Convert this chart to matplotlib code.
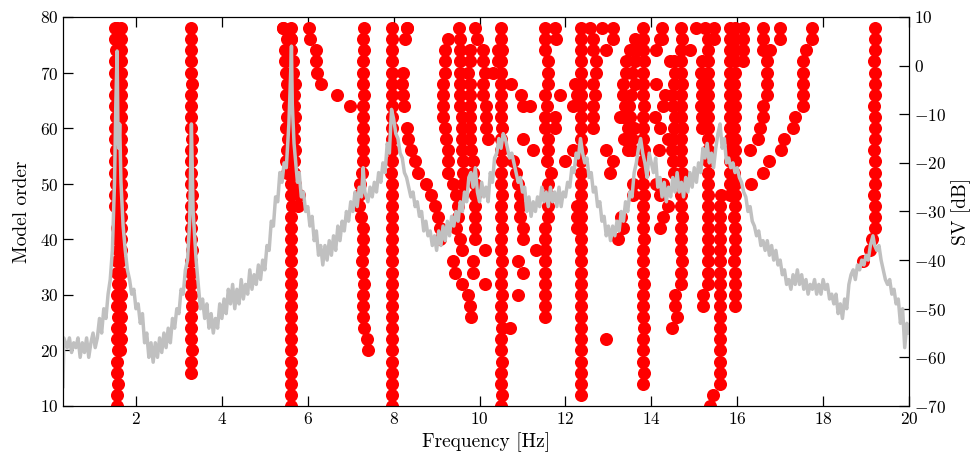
import numpy as np
import matplotlib
matplotlib.use('Agg')
import matplotlib.pyplot as plt

plt.rcParams['font.family'] = 'serif'
plt.rcParams['font.serif'] = ['cmr10']
plt.rcParams['mathtext.fontset'] = 'cm'
plt.rcParams['axes.unicode_minus'] = False
plt.rcParams['axes.formatter.use_mathtext'] = True

#
#  Singular value spectrum (right axis), (frequency, dB) pairs
#
sv_pts = [
    (0.30, -66), (0.32, -56), (0.40, -58), (0.45, -56), (0.50, -59), (0.55, -57),
    (0.60, -58), (0.65, -56), (0.70, -60), (0.75, -57), (0.80, -59), (0.85, -56),
    (0.90, -60), (0.95, -57), (1.00, -55), (1.05, -58), (1.10, -56), (1.15, -52),
    (1.20, -55), (1.25, -50), (1.30, -52), (1.35, -47), (1.40, -44), (1.45, -38),
    (1.50, -24), (1.53, -8), (1.56, 3), (1.58, -14), (1.60, -17), (1.62, -12),
    (1.65, -24), (1.70, -33), (1.75, -38), (1.80, -42), (1.85, -44), (1.90, -47),
    (1.95, -46), (2.00, -50), (2.05, -49), (2.10, -53), (2.15, -51), (2.20, -57),
    (2.25, -55), (2.30, -60), (2.35, -57), (2.40, -61), (2.45, -57), (2.50, -60),
    (2.55, -56), (2.60, -59), (2.65, -55), (2.70, -58), (2.75, -54), (2.80, -57),
    (2.85, -52), (2.90, -54), (2.95, -50), (3.00, -51), (3.05, -46), (3.10, -47),
    (3.15, -42), (3.20, -40), (3.25, -32), (3.29, -12), (3.33, -30), (3.40, -40),
    (3.45, -45), (3.50, -50), (3.55, -48), (3.60, -52), (3.65, -49), (3.70, -54),
    (3.75, -51), (3.80, -55), (3.85, -52), (3.90, -54), (3.95, -49), (4.00, -52),
    (4.05, -48), (4.10, -51), (4.15, -46), (4.20, -49), (4.25, -45), (4.30, -50),
    (4.35, -46), (4.40, -49), (4.45, -44), (4.50, -48), (4.55, -45), (4.60, -47),
    (4.65, -42), (4.70, -46), (4.75, -43), (4.80, -45), (4.85, -41), (4.90, -44),
    (4.95, -40), (5.00, -42), (5.05, -37), (5.10, -38), (5.15, -32), (5.20, -33),
    (5.25, -27), (5.30, -28), (5.35, -22), (5.40, -24), (5.45, -20), (5.50, -21),
    (5.56, -12), (5.60, -2), (5.62, 4), (5.64, -8), (5.68, -16), (5.72, -20),
    (5.76, -24), (5.80, -22), (5.85, -27), (5.90, -26), (5.95, -30), (6.00, -29),
    (6.05, -33), (6.10, -31), (6.15, -36), (6.20, -34), (6.25, -39), (6.30, -37),
    (6.35, -41), (6.40, -37), (6.45, -40), (6.50, -36), (6.55, -39), (6.60, -35),
    (6.65, -38), (6.70, -33), (6.75, -36), (6.80, -32), (6.85, -34), (6.90, -30),
    (6.95, -32), (7.00, -28), (7.05, -30), (7.10, -26), (7.15, -29), (7.20, -25),
    (7.25, -27), (7.29, -21), (7.33, -26), (7.40, -28), (7.45, -25), (7.50, -27),
    (7.55, -24), (7.60, -26), (7.65, -22), (7.70, -24), (7.75, -20), (7.80, -22),
    (7.85, -16), (7.90, -18), (7.95, -9), (8.00, -11), (8.05, -14), (8.10, -15),
    (8.15, -18), (8.20, -19), (8.25, -22), (8.30, -23), (8.35, -25), (8.40, -27),
    (8.45, -26), (8.50, -29), (8.55, -28), (8.60, -31), (8.65, -30), (8.70, -34),
    (8.75, -32), (8.80, -35), (8.85, -34), (8.90, -37), (8.95, -35), (9.00, -38),
    (9.05, -34), (9.10, -37), (9.15, -33), (9.20, -36), (9.25, -32), (9.30, -35),
    (9.35, -31), (9.40, -33), (9.45, -30), (9.50, -32), (9.55, -28), (9.60, -30),
    (9.65, -26), (9.70, -28), (9.75, -23), (9.80, -22), (9.85, -25), (9.90, -21),
    (9.95, -26), (10.00, -28), (10.05, -24), (10.10, -27), (10.15, -25), (10.20, -28),
    (10.25, -22), (10.30, -24), (10.35, -19), (10.40, -18), (10.45, -15), (10.50, -17),
    (10.55, -14), (10.60, -15), (10.65, -17), (10.70, -19), (10.75, -18), (10.80, -20),
    (10.85, -22), (10.90, -24), (10.95, -23), (11.00, -26), (11.05, -25), (11.10, -30),
    (11.15, -27), (11.20, -31), (11.25, -28), (11.30, -30), (11.35, -27), (11.40, -29),
    (11.45, -25), (11.50, -28), (11.55, -26), (11.60, -29), (11.65, -25), (11.70, -28),
    (11.75, -26), (11.80, -29), (11.85, -25), (11.90, -29), (11.95, -26), (12.00, -27),
    (12.05, -24), (12.10, -25), (12.15, -21), (12.20, -22), (12.25, -18), (12.30, -19),
    (12.35, -15), (12.40, -18), (12.45, -20), (12.50, -19), (12.55, -23), (12.60, -22),
    (12.65, -26), (12.70, -25), (12.75, -29), (12.80, -28), (12.85, -32), (12.90, -31),
    (12.95, -35), (13.00, -33), (13.05, -36), (13.10, -33), (13.15, -35), (13.20, -32),
    (13.25, -34), (13.30, -30), (13.35, -32), (13.40, -28), (13.45, -30), (13.50, -26),
    (13.55, -27), (13.60, -22), (13.65, -20), (13.70, -17), (13.75, -15), (13.80, -18),
    (13.85, -20), (13.90, -23), (13.95, -18), (14.00, -20), (14.05, -22), (14.10, -19),
    (14.15, -25), (14.20, -23), (14.25, -27), (14.30, -24), (14.35, -28), (14.40, -25),
    (14.45, -27), (14.50, -23), (14.55, -26), (14.60, -22), (14.65, -26), (14.70, -24),
    (14.75, -27), (14.80, -23), (14.85, -26), (14.90, -22), (14.95, -25), (15.00, -21),
    (15.05, -24), (15.10, -20), (15.15, -22), (15.20, -17), (15.25, -19), (15.30, -16),
    (15.35, -20), (15.40, -18), (15.45, -21), (15.50, -17), (15.55, -14), (15.60, -12),
    (15.65, -17), (15.70, -15), (15.75, -20), (15.80, -19), (15.85, -21), (15.90, -20),
    (15.95, -22), (16.00, -21), (16.05, -23), (16.10, -24), (16.15, -26), (16.20, -27),
    (16.25, -30), (16.30, -29), (16.35, -32), (16.40, -33), (16.45, -35), (16.50, -34),
    (16.55, -37), (16.60, -36), (16.65, -38), (16.70, -36), (16.75, -39), (16.80, -37),
    (16.85, -40), (16.90, -38), (16.95, -41), (17.00, -40), (17.05, -43), (17.10, -42),
    (17.15, -45), (17.20, -44), (17.25, -46), (17.30, -43), (17.35, -45), (17.40, -42),
    (17.45, -45), (17.50, -43), (17.55, -46), (17.60, -44), (17.65, -47), (17.70, -45),
    (17.75, -46), (17.80, -44), (17.85, -47), (17.90, -45), (17.95, -47), (18.00, -44),
    (18.05, -46), (18.10, -45), (18.15, -48), (18.20, -47), (18.25, -49), (18.30, -47),
    (18.35, -51), (18.40, -49), (18.45, -52), (18.50, -48), (18.55, -50), (18.60, -45),
    (18.65, -43), (18.70, -42), (18.75, -44), (18.80, -41), (18.85, -42), (18.90, -40),
    (18.95, -41), (19.00, -39), (19.05, -40), (19.10, -37), (19.16, -35), (19.20, -37),
    (19.25, -38), (19.30, -37), (19.35, -40), (19.40, -42), (19.45, -44), (19.50, -45),
    (19.55, -44), (19.60, -47), (19.65, -46), (19.70, -49), (19.75, -48), (19.80, -53),
    (19.85, -50), (19.90, -58), (19.95, -53), (20.00, -55),
]
sv_freq = [p[0] for p in sv_pts]
sv_db = [p[1] for p in sv_pts]

#
#  Stabilisation diagram: identified poles (model order, frequency)
#  Each track: first model order, then one frequency per order (step 2).
#
tracks = [
    # 1.6 Hz
    (10, [1.56, 1.56, 1.57, 1.56, 1.56, 1.57, 1.56, 1.56, 1.57, 1.56, 1.56, 1.57,
          1.56, 1.56, 1.57, 1.56, 1.56, 1.57, 1.56, 1.56, 1.57, 1.56, 1.56, 1.57,
          1.56, 1.56, 1.57, 1.56, 1.56, 1.57, 1.56, 1.56, 1.57, 1.56, 1.56]),
    (20, [1.63, 1.64, 1.63, 1.64, 1.63, 1.64, 1.63, 1.64, 1.63, 1.65, 1.64, 1.65,
          1.64, 1.65, 1.64, 1.65, 1.64, 1.65, 1.64, 1.65, 1.64, 1.65, 1.64, 1.65,
          1.64, 1.65, 1.64, 1.65, 1.64, 1.66]),
    (46, [1.52, 1.52, 1.53, 1.52, 1.52, 1.53, 1.52, 1.52, 1.53, 1.52, 1.52, 1.53,
          1.52, 1.52, 1.53, 1.52, 1.51]),
    # 3.3 Hz
    (16, [3.29, 3.29, 3.30, 3.29, 3.28, 3.29, 3.30, 3.29, 3.28, 3.29, 3.29, 3.30,
          3.29, 3.28, 3.29, 3.29, 3.30, 3.29, 3.28, 3.29, 3.29, 3.30, 3.29, 3.28,
          3.29, 3.29, 3.30, 3.29, 3.28, 3.29, 3.29, 3.29]),
    # 5.6 Hz
    (10, [5.62, 5.62, 5.62, 5.61, 5.62, 5.62, 5.62, 5.61, 5.62, 5.62, 5.62, 5.61,
          5.62, 5.62, 5.62, 5.61, 5.62, 5.62, 5.63, 5.62, 5.61, 5.62, 5.63, 5.62,
          5.61, 5.62, 5.63, 5.62, 5.61, 5.62, 5.63, 5.62, 5.60, 5.62, 5.62]),
    (52, [5.52, 5.50, 5.52, 5.53, 5.50, 5.52, 5.53, 5.50, 5.52, 5.49, 5.47, 5.47,
          5.52, 5.42]),
    (46, [5.78, 5.80, 5.70, 5.69, 5.68, 5.70, 5.69, 5.68, 5.70, 5.69, 5.68, 5.70,
          5.66, 5.66]),
    (64, [6.98, 6.68, 6.31, 6.22, 6.19, 6.18, 6.05, 6.04]),
    # 7.3 Hz
    (20, [7.40, 7.37, 7.30, 7.29, 7.28, 7.29, 7.30, 7.28, 7.27, 7.28, 7.29, 7.28,
          7.24, 7.20, 7.19, 7.22, 7.26, 7.28, 7.29, 7.28, 7.29, 7.28, 7.29, 7.30,
          7.29, 7.28, 7.29, 7.30, 7.29, 7.30]),
    # 7.95 Hz
    (10, [7.95, 7.95, 7.96, 7.95, 7.95, 7.96, 7.95, 7.95, 7.96, 7.95, 7.95, 7.96,
          7.95, 7.95, 7.96, 7.95, 7.95, 7.96, 7.95, 7.95, 7.96, 7.94, 7.95, 7.96,
          7.95, 7.95, 7.96, 7.95, 7.95, 7.96, 7.95, 7.95, 7.96, 7.95, 7.95]),
    (40, [9.07, 9.07, 9.03, 8.97, 8.88, 8.76, 8.57, 8.49, 8.41, 8.33, 8.30]),
    (64, [8.24, 8.22, 8.20, 8.22]),
    (76, [8.26, 8.30]),
    # 9 - 10.3 Hz
    (26, [9.81, 9.77, 9.73, 9.58, 9.42, 9.38, 9.58, 9.54, 9.46, 9.50, 9.50, 9.46,
          9.38, 9.27, 9.27, 9.27, 9.23, 9.19, 9.15, 9.15, 9.15, 9.15, 9.19, 9.19,
          9.19, 9.27]),
    (48, [9.58, 9.62, 9.62, 9.62, 9.58, 9.58, 9.58, 9.58, 9.54, 9.54, 9.54, 9.54,
          9.54, 9.54, 9.54, 9.52]),
    (34, [9.85, 9.85]),
    (40, [9.89, 9.89, 9.89, 9.89, 9.89, 9.89, 9.85, 9.85, 9.81, 9.77, 9.77, 9.77,
          9.77, 9.77, 9.77, 9.73, 9.77, 9.77, 9.93, 9.89]),
    (58, [10.20, 10.16, 10.16, 10.16, 10.08, 10.08, 10.12, 10.08, 10.08]),
    # 10.5 Hz
    (10, [10.51, 10.52, 10.51, 10.51, 10.52, 10.51, 10.51, 10.52, 10.51, 10.51,
          10.52, 10.51, 10.51, 10.52, 10.51, 10.51, 10.52, 10.51, 10.51, 10.52,
          10.51, 10.51, 10.52, 10.51, 10.51, 10.52, 10.51, 10.51, 10.50, 10.51,
          10.50, 10.51, 10.52, 10.51, 10.51]),
    (40, [11.01, 11.01, 10.94, 10.94, 10.94, 10.90, 10.86, 10.78]),
    # 11.55 Hz
    (26, [11.52, 11.52, 11.52, 11.52, 11.52, 11.52, 11.52, 11.52, 11.52, 11.60,
          11.60, 11.60, 11.60, 11.67, 11.56, 11.60, 11.60, 11.52, 11.52, 11.56,
          11.52, 11.60, 11.60, 11.60, 11.52, 11.52, 11.52]),
    # 12.35 Hz
    (12, [12.37, 12.37, 12.36, 12.37, 12.37, 12.36, 12.37, 12.37, 12.36, 12.37,
          12.37, 12.36, 12.37, 12.37, 12.36, 12.37, 12.37, 12.36, 12.37, 12.37,
          12.36, 12.37, 12.37, 12.36, 12.37, 12.37, 12.36, 12.37, 12.37, 12.36,
          12.37, 12.37, 12.36, 12.37]),
    (60, [12.64, 12.64, 12.64, 12.68, 12.64, 12.72, 12.72, 12.64, 12.64]),
    # 13.3 - 13.7 Hz cluster
    (56, [13.46, 13.42, 13.46, 13.34, 13.38, 13.34, 13.34, 13.42, 13.42, 13.50,
          13.61]),
    (56, [13.55, 13.55, 13.60, 13.50, 13.48, 13.52, 13.61, 13.54, 13.62, 13.69]),
    # 13.8 Hz
    (14, [13.81, 13.82, 13.81, 13.80, 13.81, 13.82, 13.81, 13.80, 13.81, 13.82,
          13.81, 13.80, 13.81, 13.82, 13.81, 13.80, 13.81, 13.82, 13.81, 13.80,
          13.81, 13.82, 13.81, 13.80, 13.81, 13.82, 13.81, 13.80, 13.81, 13.82,
          13.81, 13.80, 13.81]),
    # 14.5 - 14.7 Hz
    (52, [14.52, 14.50, 14.48, 14.50, 14.52, 14.54, 14.50, 14.48, 14.52, 14.55,
          14.52]),
    (24, [14.47, 14.60, 14.54, 14.54, 14.70, 14.70, 14.71, 14.70, 14.69, 14.70,
          14.71, 14.70, 14.69, 14.70, 14.71, 14.70, 14.69, 14.70, 14.71, 14.70,
          14.69, 14.70, 14.71, 14.70, 14.69, 14.70, 14.71, 14.70]),
    # 15.2 - 15.6 Hz
    (60, [15.17, 15.18, 15.16, 15.17, 15.18, 15.16, 15.17]),
    (28, [15.20, 15.20, 15.32, 15.33, 15.32, 15.31, 15.32, 15.33, 15.32, 15.31,
          15.32, 15.33, 15.32, 15.31, 15.32, 15.33, 15.32, 15.31, 15.32, 15.33,
          15.32, 15.31, 15.32, 15.33, 15.32]),
    (10, [15.36, 15.44, 15.60, 15.60, 15.61, 15.60, 15.59, 15.60, 15.61, 15.60,
          15.59, 15.60, 15.61, 15.60, 15.59, 15.60, 15.61, 15.60, 15.59, 15.62]),
    # 15.9 Hz
    (28, [15.94, 15.94, 15.95, 15.94, 15.93, 15.94, 15.95, 15.94, 15.93, 15.94,
          15.95, 15.94, 15.93, 15.94, 15.95, 15.94, 15.93, 15.94, 15.95, 15.94,
          15.93, 15.94, 15.95, 15.94, 15.94, 15.94]),
    (48, [15.83, 15.84, 15.83, 15.82, 15.83, 15.84, 15.83, 15.82, 15.83, 15.84,
          15.83, 15.82, 15.83, 15.84, 15.83, 15.83]),
    (72, [16.14, 16.14, 16.14, 16.14]),
    (74, [16.60, 16.60, 16.60]),
    # curved tracks 16.3 - 17.7 Hz
    (56, [16.29, 16.48, 16.53, 16.60, 16.60, 16.69, 16.69, 16.69, 16.69, 16.76,
          16.99, 16.99]),
    (50, [16.33, 16.60, 16.75, 17.03, 17.10, 17.30, 17.34, 17.53, 17.53, 17.53,
          17.53, 17.53, 17.61, 17.73, 17.73]),
    # 19.2 Hz
    (36, [18.93, 19.09, 19.13, 19.20, 19.21, 19.20, 19.19, 19.20, 19.21, 19.20,
          19.19, 19.20, 19.21, 19.20, 19.19, 19.20, 19.21, 19.20, 19.19, 19.20,
          19.20, 19.20]),
]

# isolated poles (order, frequency)
single_pts = [
    (78, 5.42), (76, 5.62), (78, 8.30),
    (38, 10.12), (32, 10.12), (74, 10.43), (72, 10.43), (70, 10.31),
    (68, 10.74), (66, 10.97), (64, 11.01), (64, 11.17), (58, 11.01), (56, 11.25),
    (38, 11.32), (36, 10.90), (34, 11.01), (30, 10.90), (24, 10.70),
    (78, 11.75), (76, 11.79), (62, 11.75), (60, 11.75), (66, 11.87), (54, 11.98),
    (68, 12.22), (66, 12.26), (64, 12.18), (56, 12.18), (46, 12.26), (44, 12.26),
    (42, 12.26),
    (78, 12.57), (78, 12.84), (78, 13.11), (76, 13.11), (74, 12.95), (56, 12.95),
    (54, 13.11), (52, 13.03), (40, 13.22), (22, 12.95),
    (50, 13.57), (48, 13.57), (62, 13.28), (58, 13.36), (44, 13.30), (42, 13.35),
    (78, 14.24), (76, 14.24), (76, 14.20), (74, 14.12), (72, 14.43), (68, 14.12),
    (66, 14.31), (64, 14.27), (62, 14.08), (60, 14.20), (58, 14.39), (56, 14.18),
    (50, 14.12), (50, 14.27), (48, 14.20), (46, 14.39), (44, 14.27), (42, 14.20),
    (74, 14.90), (78, 15.05), (78, 15.25), (78, 15.45), (76, 15.45),
]

orders = []
freqs = []
for first, fl in tracks:
    for i, f in enumerate(fl):
        orders.append(first + 2 * i)
        freqs.append(f)
for o, f in single_pts:
    orders.append(o)
    freqs.append(f)

#
#  Plot.
#
fig = plt.figure(figsize=(9.72, 4.59), dpi=100)
ax1 = fig.add_axes([0.0648, 0.1155, 0.8704, 0.8475])
ax2 = ax1.twinx()

ax1.plot(freqs, orders, linestyle='none', marker='o', markersize=9.4,
         color='#ff0000', markeredgewidth=0)
ax2.plot(sv_freq, sv_db, color='#c0c0c0', linewidth=2.5)

ax1.set_xlim(0.3, 20)
ax1.set_ylim(10, 80)
ax2.set_ylim(-70, 10)
ax1.set_xticks([2, 4, 6, 8, 10, 12, 14, 16, 18, 20])
ax1.set_yticks([10, 20, 30, 40, 50, 60, 70, 80])
ax2.set_yticks([-70, -60, -50, -40, -30, -20, -10, 0, 10])

ax1.tick_params(direction='in', length=7, width=0.9, labelsize=12.5, top=True)
ax2.tick_params(direction='in', length=7, width=0.9, labelsize=12.5)

ax1.set_xlabel('Frequency [Hz]', fontsize=14, labelpad=4)
ax1.set_ylabel('Model order', fontsize=14, labelpad=6)
ax2.set_ylabel('SV [dB]', fontsize=14, labelpad=4)

fig.savefig('out.png', dpi=100)
